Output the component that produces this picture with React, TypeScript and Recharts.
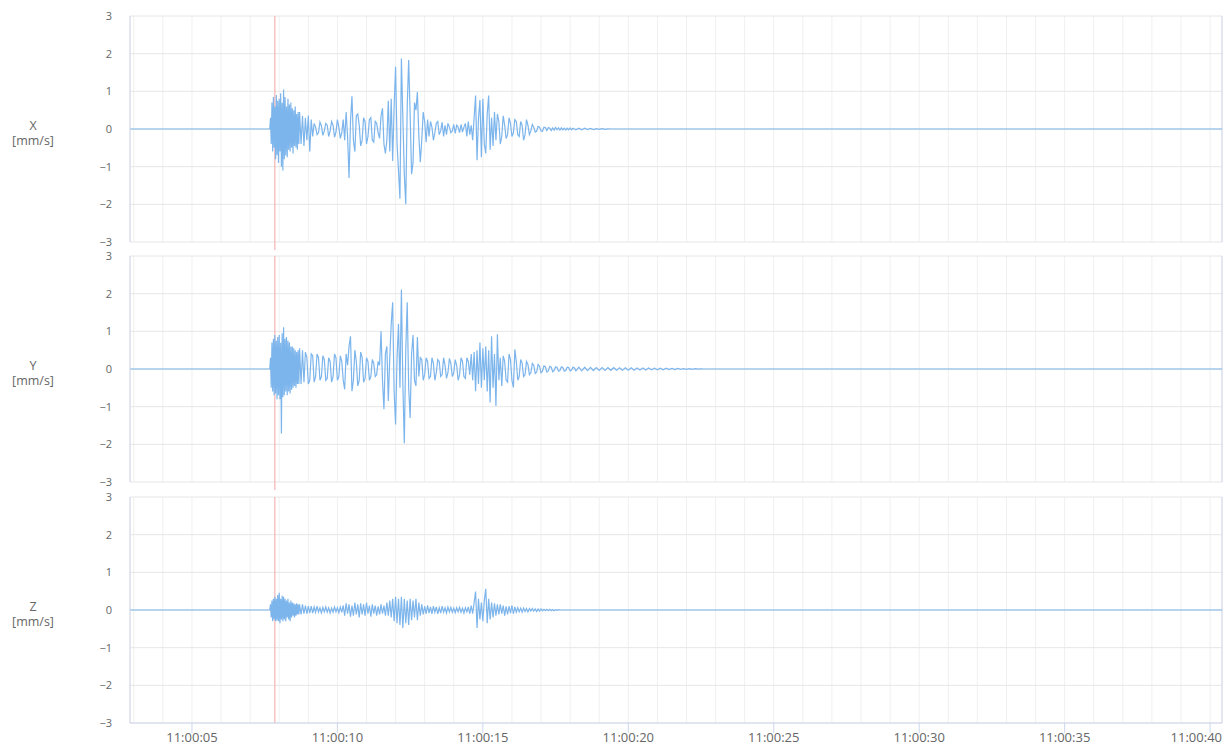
import { LineChart, Line, XAxis, YAxis, CartesianGrid, ReferenceLine } from "recharts";

const FONT = "'Open Sans', 'DejaVu Sans', sans-serif";
const WAVE_COLOR = "#7cb5ec";

// time axis, seconds after 11:00:00
const X_DOMAIN: [number, number] = [2.87, 40.41];
const SECOND_TICKS = [3, 4, 5, 6, 7, 8, 9, 10, 11, 12, 13, 14, 15, 16, 17, 18, 19, 20, 21, 22, 23, 24, 25, 26, 27, 28, 29, 30, 31, 32, 33, 34, 35, 36, 37, 38, 39, 40];
const LABEL_TICKS = [5, 10, 15, 20, 25, 30, 35, 40];
const Y_TICKS = [-3, -2, -1, 0, 1, 2, 3];
const TRIGGER_TIME = 7.85;

// first second of the event, every 0.025 s from 7.70 s
const ONSET_START = 7.7;
const ONSET_STEP = 0.025;
// rest of the event, every 0.05 s from 8.70 s
const BURST_START = 8.7;
const STEP = 0.05;
// slow ripple after the event, every 0.1 s
const TAIL_STEP = 0.1;

const X_ONSET = [
  0.3, -0.4, 0.7, -0.6, 0.85, -0.5, 0.6, -0.8, 0.9, -0.7,
  0.75, -0.9, 0.8, -0.6, 0.95, -1.0, 0.7, -1.1, 1.05, -0.8,
  0.85, -0.7, 0.6, -0.75, 0.8, -0.55, 0.65, -0.6, 0.7, -0.5,
  0.55, -0.65, 0.5, -0.45, 0.6, -0.5, 0.4, -0.55, 0.45, -0.4,
];
const X_BURST = [
  0.45, -0.4, 0.35, -0.45, 0.3, -0.3, 0.36, -0.6, 0.25, -0.2,
  0.15, 0.05, -0.15, -0.1, 0.18, 0.08, -0.17, -0.05, 0.15, 0.1,
  -0.2, -0.05, 0.2, 0.1, -0.22, -0.08, 0.25, 0.05, -0.25, -0.1,
  0.25, -0.3, 0.45, -0.2, -1.3, 0.2, 0.87, -0.3, -0.6, 0.35,
  0.4, 0.1, -0.45, -0.3, 0.3, 0.2, -0.4, -0.2, 0.25, 0.3,
  -0.3, -0.35, 0.2, 0.15, -0.1, -0.25, 0.35, 0.55, -0.4, -0.65,
  -0.3, 0.75, -0.6, 0.8, -0.85, 0.6, 1.65, -0.4, -1.1, -1.85,
  1.87, 0.3, -1.2, -2.0, 0.6, 1.83, 0.4, -1.2, -0.9, 0.7,
  0.5, 0.98, -0.2, -0.88, -0.3, 0.45, 0.2, -0.35, 0.25, -0.2,
  0.2, 0.05, -0.3, -0.1, 0.15, 0.2, -0.15, -0.05, 0.18, -0.2,
  0.1, -0.15, 0.15, 0.05, -0.1, -0.05, 0.12, -0.12, 0.1, 0.05,
  -0.1, 0.12, -0.08, 0.05, 0.15, -0.2, 0.2, -0.15, 0.1, -0.3,
  0.3, 0.89, -0.83, 0.3, 0.77, -0.75, 0.8, -0.4, -0.65, 0.4,
  0.89, -0.55, 0.3, -0.45, 0.45, -0.3, 0.4, 0.2, -0.4, -0.2,
  0.35, 0.1, -0.25, -0.15, 0.3, 0.15, -0.2, -0.1, 0.25, 0.2,
  -0.15, -0.2, 0.2, 0.1, -0.3, -0.15, 0.25, 0.1, -0.15, -0.05,
  0.12, 0.05, -0.08, -0.06, 0.07, 0.05, -0.05, -0.06, 0.05, 0.04,
  -0.04, 0.04, 0.02, -0.04, 0.03, -0.03, 0.04, -0.02, 0.03, -0.03,
  0.03, -0.02, 0.02, -0.03, 0.02, -0.02, 0.03, -0.02, 0.02, 0,
];
const X_TAIL = [-0.02, 0.02, -0.02, 0.02, -0.015, 0.015, -0.015, 0.01, -0.01, 0.01, -0.01, 0.005];

const Y_ONSET = [
  0.3, -0.5, 0.7, -0.6, 0.8, -0.7, 0.9, -0.65, 0.75, -0.8,
  0.85, -0.7, 0.9, -0.8, 0.7, -1.71, 0.95, -0.75, 1.11, -0.7,
  0.8, -0.6, 0.85, -0.7, 0.75, -0.6, 0.7, -0.65, 0.6, -0.55,
  0.6, -0.5, 0.55, -0.45, 0.5, -0.5, 0.45, -0.4, 0.5, -0.4,
];
const Y_BURST = [
  0.55, -0.4, 0.5, -0.35, 0.45, 0.3, -0.4, -0.3, 0.4, 0.35,
  -0.35, -0.2, 0.4, 0.3, -0.3, -0.2, 0.35, 0.25, -0.3, -0.25,
  0.3, 0.2, -0.35, -0.2, 0.4, 0.3, -0.3, -0.2, 0.35, 0.2,
  -0.3, -0.54, 0.4, 0.1, 0.6, 0.87, -0.59, -0.3, 0.5, 0.2,
  -0.45, -0.3, 0.45, 0.3, -0.35, -0.25, 0.3, 0.2, -0.3, -0.2,
  0.25, 0.15, -0.2, -0.15, 0.2, 0.1, 1.0, -0.3, -1.07, 0.4,
  0.6, -0.85, 0.3, 1.2, 1.77, -0.6, -1.47, 0.3, 1.2, -0.5,
  2.11, -0.4, -1.97, 0.5, 1.77, -0.5, -1.3, 0.4, 0.9, -0.3,
  -0.45, 0.85, -0.2, 0.3, 0.25, -0.3, -0.15, 0.3, 0.2, -0.25,
  -0.2, 0.3, 0.15, -0.3, -0.1, 0.25, 0.2, -0.2, -0.15, 0.3,
  0.1, -0.25, -0.1, 0.28, 0.15, -0.2, -0.1, 0.25, 0.1, -0.3,
  -0.15, 0.3, 0.2, -0.2, -0.25, 0.3, 0.2, -0.15, 0.4, -0.3,
  0.45, -0.59, 0.5, -0.4, 0.7, -0.5, 0.55, -0.3, 0.6, -0.6,
  0.5, -0.89, 0.87, -0.5, 0.4, -0.98, 0.92, -0.3, 0.3, -0.45,
  0.35, 0.2, -0.3, -0.35, 0.4, 0.25, -0.3, -0.49, 0.52, 0.2,
  -0.3, -0.2, 0.25, 0.15, -0.2, -0.15, 0.2, 0.12, -0.15, -0.1,
  0.15, 0.1, -0.12, -0.08, 0.12, 0.07, -0.1, -0.06, 0.08, 0.06,
  -0.08, -0.05, 0.07, 0.05, -0.07, -0.04, 0.06, 0.04, -0.06, -0.04,
  0.06, 0.04, -0.06, -0.04, 0.05, 0.04, -0.05, -0.03, 0.05, 0.03,
];
const Y_TAIL = [
  -0.05, 0.05, -0.05, 0.045, -0.045, 0.045, -0.04, 0.04, -0.04, 0.04,
  -0.04, 0.035, -0.035, 0.035, -0.035, 0.03, -0.03, 0.03, -0.03, 0.03,
  -0.03, 0.025, -0.025, 0.025, -0.025, 0.025, -0.02, 0.02, -0.02, 0.02,
  -0.02, 0.02, -0.015, 0.015, -0.015, 0.015, -0.01, 0.01, -0.01, 0.01,
  -0.01, 0.01, -0.005, 0.005,
];

const Z_ONSET = [
  0.15, -0.2, 0.25, -0.3, 0.3, -0.25, 0.35, -0.3, 0.3, -0.28,
  0.4, -0.3, 0.46, -0.35, 0.3, -0.25, 0.38, -0.3, 0.35, -0.25,
  0.3, -0.3, 0.25, -0.2, 0.3, -0.25, 0.2, -0.3, 0.25, -0.2,
  0.2, -0.15, 0.18, -0.2, 0.15, -0.15, 0.18, -0.12, 0.15, -0.12,
];
const Z_BURST = [
  0.15, -0.12, 0.15, -0.1, 0.12, -0.1, 0.1, -0.08, 0.1, -0.08,
  0.08, -0.06, 0.1, -0.05, 0.06, -0.08, 0.07, -0.05, 0.08, -0.06,
  0.06, -0.08, 0.05, -0.06, 0.08, -0.05, 0.06, -0.07, 0.08, -0.06,
  0.12, -0.15, 0.18, -0.1, 0.15, -0.18, 0.12, -0.15, 0.2, -0.12,
  0.15, -0.2, 0.18, -0.12, 0.15, -0.15, 0.2, -0.1, 0.12, -0.18,
  0.15, -0.1, 0.12, -0.15, 0.1, -0.12, 0.15, -0.1, 0.12, -0.15,
  0.2, -0.15, 0.25, -0.2, 0.3, -0.3, 0.35, -0.35, 0.3, -0.4,
  0.35, -0.48, 0.3, -0.35, 0.25, -0.4, 0.3, -0.27, 0.25, -0.2,
  0.3, -0.27, 0.2, -0.15, 0.15, -0.12, 0.1, -0.1, 0.12, -0.08,
  0.08, -0.1, 0.1, -0.06, 0.08, -0.1, 0.06, -0.08, 0.1, -0.06,
  0.06, -0.08, 0.08, -0.05, 0.07, -0.06, 0.05, -0.07, 0.06, -0.05,
  0.07, -0.06, 0.05, -0.08, 0.06, -0.05, 0.08, -0.1, 0.12, -0.1,
  0.2, 0.49, -0.48, 0.3, -0.25, 0.2, -0.3, 0.25, 0.56, -0.35,
  0.3, -0.25, 0.2, -0.2, 0.18, -0.15, 0.15, -0.12, 0.15, -0.1,
  0.12, -0.15, 0.1, -0.12, 0.1, -0.08, 0.12, -0.1, 0.08, -0.06,
  0.06, -0.05, 0.05, -0.06, 0.05, -0.04, 0.04, -0.05, 0.04, -0.03,
  0.04, -0.03, 0.03, -0.04, 0.03, -0.03, 0.03, -0.02, 0.02, -0.02,
  0.02, -0.02, 0.02, -0.02, 0.01, -0.02, 0.01, -0.01, 0.01, 0,
];
const Z_TAIL: number[] = [];

const CHART_WIDTH = 1228;
const MARGIN_RIGHT = 6;
const PLOT_RIGHT = CHART_WIDTH - MARGIN_RIGHT;
const AXIS_WIDTH = 130;

function buildSeries(onset: number[], burst: number[], tail: number[]) {
  const rows = [
    { t: X_DOMAIN[0], v: 0 },
    { t: ONSET_START - ONSET_STEP, v: 0 },
  ];
  onset.forEach((v, i) => rows.push({ t: +(ONSET_START + i * ONSET_STEP).toFixed(3), v }));
  burst.forEach((v, i) => rows.push({ t: +(BURST_START + i * STEP).toFixed(3), v }));
  const tailStart = BURST_START + burst.length * STEP;
  tail.forEach((v, i) => rows.push({ t: +(tailStart + i * TAIL_STEP).toFixed(3), v }));
  rows.push({ t: +(tailStart + tail.length * TAIL_STEP).toFixed(3), v: 0 });
  rows.push({ t: X_DOMAIN[1], v: 0 });
  return rows;
}

const pad = (n: number) => (n < 10 ? `0${n}` : `${n}`);

function TimeTick(props: any) {
  const { x, y, payload } = props;
  const v = payload.value;
  if (!LABEL_TICKS.includes(v)) return <g />;
  const last = v === LABEL_TICKS[LABEL_TICKS.length - 1];
  return (
    <g>
      <line x1={x} x2={x} y1={y - 10} y2={y} stroke="#ccd6eb" />
      <text
        x={last ? PLOT_RIGHT : x}
        y={y}
        dy="0.71em"
        textAnchor={last ? "end" : "middle"}
        fill="#666666"
        fontSize={13}
        fontFamily={FONT}
      >
        {`11:00:${pad(v)}`}
      </text>
    </g>
  );
}

function AxisTitle(props: any) {
  const { viewBox, name } = props;
  const cy = viewBox.y + viewBox.height / 2;
  return (
    <g>
      <text x={33} y={cy + 1} textAnchor="middle" fill="#666666" fontSize={12.5} fontFamily={FONT}>
        {name}
      </text>
      <text x={33} y={cy + 16} textAnchor="middle" fill="#666666" fontSize={12.5} fontFamily={FONT}>
        [mm/s]
      </text>
    </g>
  );
}

const formatY = (v: number) => (v < 0 ? `\u2212${-v}` : `${v}`);

function Panel({ name, data, top, showAxis }: { name: string; data: { t: number; v: number }[]; top: number; showAxis: boolean }) {
  return (
    <div style={{ position: "absolute", left: 0, top }}>
      <LineChart
        width={CHART_WIDTH}
        height={showAxis ? 268 : 250}
        data={data}
        margin={{ top: 16, right: MARGIN_RIGHT, bottom: showAxis ? 0 : 8, left: 0 }}
      >
        <CartesianGrid horizontal={false} stroke="#f0f0f0" />
        <CartesianGrid vertical={false} stroke="#e6e6e6" />
        <XAxis
          dataKey="t"
          type="number"
          domain={X_DOMAIN}
          ticks={SECOND_TICKS}
          interval={0}
          allowDataOverflow
          hide={!showAxis}
          height={26}
          tick={<TimeTick />}
          tickLine={false}
          tickSize={0}
          tickMargin={10}
          axisLine={{ stroke: "#ccd6eb" }}
        />
        <YAxis
          domain={[-3, 3]}
          ticks={Y_TICKS}
          interval={0}
          width={AXIS_WIDTH}
          tickLine={false}
          tickSize={0}
          tickMargin={18}
          tickFormatter={formatY}
          tick={{ fill: "#666666", fontSize: 11, fontFamily: FONT }}
          axisLine={{ stroke: "#ccd6eb" }}
          label={<AxisTitle name={name} />}
        />
        <ReferenceLine x={X_DOMAIN[1]} stroke="#ccd6eb" />
        <ReferenceLine
          segment={[
            { x: TRIGGER_TIME, y: 3 },
            { x: TRIGGER_TIME, y: showAxis ? -3 : -3.42 },
          ]}
          stroke="#f5a3a3"
          ifOverflow="visible"
        />
        <Line
          type="linear"
          dataKey="v"
          stroke={WAVE_COLOR}
          strokeWidth={1.2}
          dot={false}
          activeDot={false}
          isAnimationActive={false}
        />
      </LineChart>
    </div>
  );
}

export default function App() {
  const xData = buildSeries(X_ONSET, X_BURST, X_TAIL);
  const yData = buildSeries(Y_ONSET, Y_BURST, Y_TAIL);
  const zData = buildSeries(Z_ONSET, Z_BURST, Z_TAIL);
  return (
    <div style={{ position: "absolute", left: 0, top: 0, width: 1228, height: 749, background: "#fff", fontFamily: FONT }}>
      <Panel name="X" data={xData} top={0} showAxis={false} />
      <Panel name="Y" data={yData} top={240} showAxis={false} />
      <Panel name="Z" data={zData} top={481} showAxis={true} />
    </div>
  );
}
